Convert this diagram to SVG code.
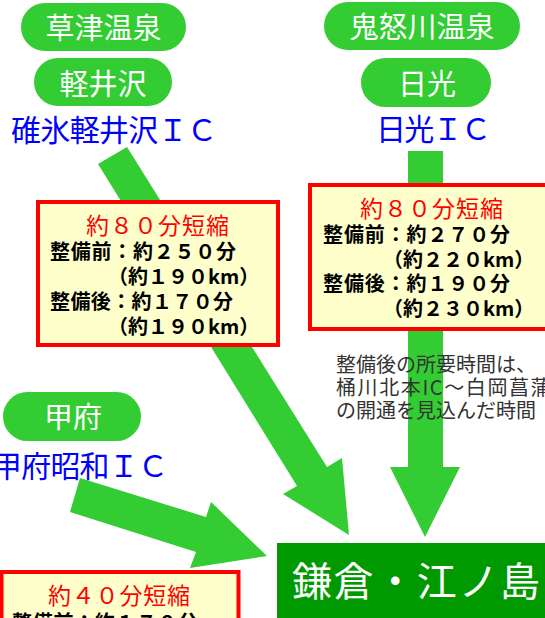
<svg xmlns="http://www.w3.org/2000/svg" width="545" height="618" viewBox="0 0 545 618">
<style>
text{font-family:"Noto Sans CJK JP","Noto Sans",sans-serif}
.pill{fill:#33cc33}
.pt{fill:#fff;font-size:29px;text-anchor:middle}
.ic{fill:#0000ff;font-size:30px}
.arrow{fill:#33cc33}
.box{fill:#ffffcc;stroke:#ff0000;stroke-width:4}
.red{fill:#ff0000;font-size:23px}
.blk{fill:#000;font-size:20px;font-weight:bold}
.note{fill:#333;font-size:20px}
.dest{fill:#fff;font-size:40px}
</style>
<g id="connectors">
<polygon class="arrow" points="98,164 127,147 327,467 342,458 349,535 283,494 297,486"/>
<polygon class="arrow" points="408,151 443,151 443,467 460,467 425,537 390,467 408,467"/>
<polygon class="arrow" points="70,512 80,478 206,517 211,502 267,556 190,568 196,552"/>
</g>
<g id="kusatsu"><rect class="pill" x="21" y="3" width="165" height="48" rx="24"/><text class="pt" x="103.5" y="38.5">草津温泉</text></g>
<g id="karuizawa"><rect class="pill" x="34" y="58" width="138" height="48" rx="24"/><text class="pt" x="103" y="94.5">軽井沢</text></g>
<g id="usui-ic"><text class="ic" x="11" y="141" textLength="206" lengthAdjust="spacing">碓氷軽井沢ＩＣ</text></g>
<g id="kinugawa"><rect class="pill" x="324" y="2" width="196" height="48" rx="24"/><text class="pt" x="422" y="37.5">鬼怒川温泉</text></g>
<g id="nikko"><rect class="pill" x="361" y="58" width="130" height="49" rx="24.5"/><text class="pt" x="427" y="95">日光</text></g>
<g id="nikko-ic"><text class="ic" x="376" y="140" textLength="115" lengthAdjust="spacing">日光ＩＣ</text></g>
<g id="kofu"><rect class="pill" x="3" y="392" width="138" height="49" rx="24.5"/><text class="pt" x="73" y="428">甲府</text></g>
<g id="kofu-ic"><text class="ic" x="-8" y="477" textLength="176" lengthAdjust="spacing">甲府昭和ＩＣ</text></g>
<g id="info1">
<rect class="box" x="38" y="202" width="240" height="143"/>
<text class="red" x="86" y="233.5" textLength="143" lengthAdjust="spacing">約８０分短縮</text>
<text class="blk" x="50" y="258.5" textLength="186" lengthAdjust="spacing">整備前：約２５０分</text>
<text class="blk" x="108" y="283.5">（約１９０km）</text>
<text class="blk" x="50" y="308.5" textLength="183" lengthAdjust="spacing">整備後：約１７０分</text>
<text class="blk" x="108" y="333.5">（約１９０km）</text>
</g>
<g id="info2">
<rect class="box" x="310" y="185" width="245" height="144"/>
<text class="red" x="360" y="216.5" textLength="143" lengthAdjust="spacing">約８０分短縮</text>
<text class="blk" x="323" y="241.5" textLength="187" lengthAdjust="spacing">整備前：約２７０分</text>
<text class="blk" x="383" y="266.5">（約２２０km）</text>
<text class="blk" x="323" y="290.5" textLength="187" lengthAdjust="spacing">整備後：約１９０分</text>
<text class="blk" x="383" y="316">（約２３０km）</text>
</g>
<g id="info3">
<rect class="box" x="1.5" y="572" width="237" height="70"/>
<text class="red" x="48" y="604" textLength="142" lengthAdjust="spacing">約４０分短縮</text>
<text class="blk" x="12" y="630" textLength="186" lengthAdjust="spacing">整備前：約１７０分</text>
</g>
<g id="kamakura">
<rect x="277" y="543" width="270" height="80" fill="#009900"/>
<text class="dest" x="292" y="596" textLength="248" lengthAdjust="spacing">鎌倉・江ノ島</text>
</g>
<g id="note">
<text class="note" x="336" y="372">整備後の所要時間は、</text>
<text class="note" x="336" y="395" textLength="258" lengthAdjust="spacing">桶川北本IC～白岡菖蒲IC間</text>
<text class="note" x="336" y="418">の開通を見込んだ時間</text>
</g>
</svg>
